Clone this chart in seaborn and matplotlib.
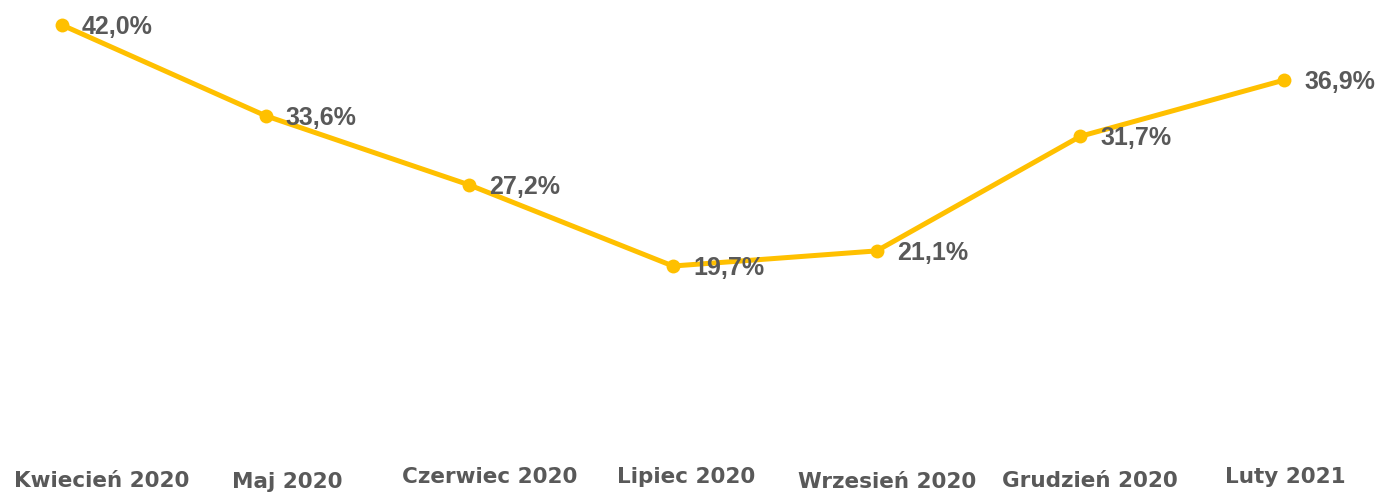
import matplotlib
matplotlib.use("Agg")
import matplotlib.pyplot as plt
import matplotlib.transforms as mtransforms
import seaborn as sns
import pandas as pd

# Monthly share values (percent)
months = ["Kwiecień 2020", "Maj 2020", "Czerwiec 2020", "Lipiec 2020",
          "Wrzesień 2020", "Grudzień 2020", "Luty 2021"]
values = [42.0, 33.6, 27.2, 19.7, 21.1, 31.7, 36.9]
value_labels = ["42,0%", "33,6%", "27,2%", "19,7%", "21,1%", "31,7%", "36,9%"]

# Month label placement: horizontal shift from the point (px) and baseline (px from top)
month_shift_px = [40, 22, 20, 13, 10, 10, 1]
month_baselines_px = [487, 488, 483, 483, 488, 487, 483]

LINE_COLOR = "#FFC000"
TEXT_COLOR = "#595959"
W, H = 1381, 494

sns.set_style("white")
plt.rcParams["font.family"] = ["DejaVu Sans"]

df = pd.DataFrame({"pos": range(len(months)), "value": values})

fig = plt.figure(figsize=(W / 100, H / 100), dpi=100)
ax = fig.add_axes([0, 0, 1, 1])

sns.lineplot(data=df, x="pos", y="value", ax=ax, color=LINE_COLOR,
             linewidth=3.6, marker="o", markersize=10,
             markeredgewidth=0, markerfacecolor=LINE_COLOR)

ax.set_xlim(-0.304, 6.476)
ax.set_ylim(-1.39, 44.31)
ax.set_axis_off()

# Value labels to the right of each point
for x, y, lab in zip(df["pos"], df["value"], value_labels):
    ax.annotate(lab, (x, y), xytext=(20, -9), textcoords="offset pixels",
                ha="left", va="baseline", fontsize=18, fontweight="bold",
                color=TEXT_COLOR, family=["Liberation Sans", "DejaVu Sans"])

# Month labels along the bottom
base_trans = ax.get_xaxis_transform()
for x, lab, dx, base in zip(df["pos"], months, month_shift_px, month_baselines_px):
    trans = base_trans + mtransforms.ScaledTranslation(dx / 100, 0, fig.dpi_scale_trans)
    ax.text(x, 1 - base / H, lab, transform=trans, ha="center",
            va="baseline", fontsize=15.5, fontweight="bold",
            color=TEXT_COLOR)

fig.savefig("out.png", dpi=100)
